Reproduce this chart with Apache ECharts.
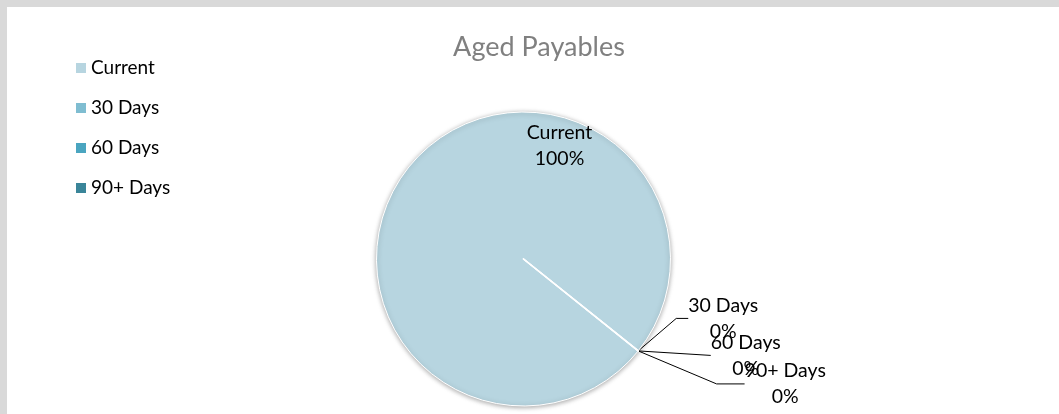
<!DOCTYPE html>
<html><head><meta charset="utf-8">
<script src="https://cdn.jsdelivr.net/npm/echarts@6/dist/echarts.min.js"></script>
<style>
html,body{margin:0;padding:0;background:#d9d9d9;width:1059px;height:414px;overflow:hidden}
#chart{position:absolute;left:7px;top:7px;width:1052px;height:407px;background:#fff}
</style></head><body><div id="chart"></div>
<script>
const chartTitle = 'Aged Payables';
const categories = ['Current', '30 Days', '60 Days', '90+ Days'];
const values = [100, 0, 0, 0];
const colors = ['#b7d5e0', '#7fbdd1', '#4aa5c0', '#3a8599'];

const FONT = 'Lato';
const chart = echarts.init(document.getElementById('chart'), null, {renderer: 'canvas'});

const labelOffsets = [null, [85, -32.5], [107.5, 4.5], [147, 33]];
const lineLen2 = [0, 12, 0, 28];

const data = categories.map((name, i) => {
  const item = {
    name: name,
    value: values[i],
    itemStyle: {color: colors[i]}
  };
  if (i === 0) {
    item.label = {position: 'inside'};
    item.labelLine = {show: false};
    item.itemStyle.shadowBlur = 5;
    item.itemStyle.shadowColor = 'rgba(0,0,0,0.35)';
    item.itemStyle.shadowOffsetY = 1;
  } else {
    item.label = {position: 'outside'};
    item.labelLine = {show: true, length: 10, length2: lineLen2[i]};
    item.itemStyle.borderWidth = 1.5;
  }
  return item;
});

chart.setOption({
  animation: false,
  title: {
    text: chartTitle,
    left: 527,
    top: 22,
    textAlign: 'center',
    textStyle: {fontFamily: FONT, fontSize: 27, fontWeight: 'normal', color: '#808080'}
  },
  legend: {
    orient: 'vertical',
    left: 64,
    top: 46,
    icon: 'rect',
    itemWidth: 10,
    itemHeight: 10,
    itemGap: 20,
    itemStyle: {borderWidth: 0, shadowBlur: 0},
    textStyle: {fontFamily: FONT, fontSize: 19, lineHeight: 20, color: '#000'},
    data: categories
  },
  series: [{
    type: 'pie',
    center: [516.5, 252],
    radius: 147,
    startAngle: -38.7,
    clockwise: true,
    avoidLabelOverlap: false,
    itemStyle: {borderColor: '#ffffff', borderWidth: 1},
    label: {
      show: true,
      formatter: '{b}\n{d}%',
      fontFamily: FONT,
      fontSize: 19.5,
      lineHeight: 26,
      color: '#000',
      align: 'center'
    },
    labelLine: {lineStyle: {color: '#000', width: 1}},
    emphasis: {disabled: true},
    labelLayout: function (p) {
      if (p.dataIndex === 0) {
        return {x: p.rect.x + p.rect.width / 2 + 36, y: p.rect.y + 34, align: 'center', verticalAlign: 'middle'};
      }
      const a = p.labelLinePoints ? p.labelLinePoints[0] : [p.rect.x + p.rect.width, p.rect.y + p.rect.height];
      const off = labelOffsets[p.dataIndex];
      return {x: a[0] + off[0], y: a[1] + off[1], align: 'center', verticalAlign: 'middle'};
    },
    data: data
  }]
});
</script></body></html>
